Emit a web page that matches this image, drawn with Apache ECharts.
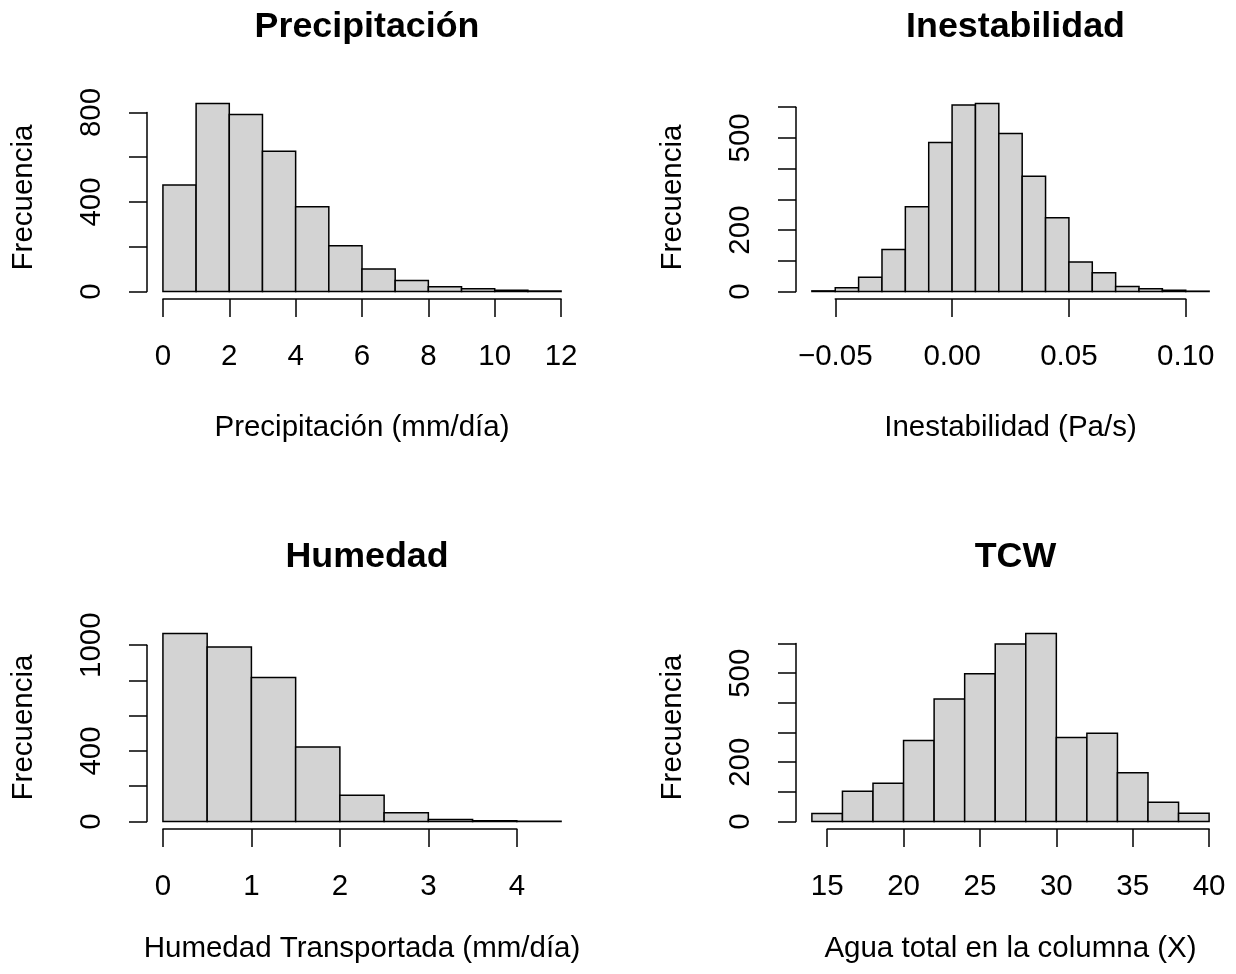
<!DOCTYPE html>
<html>
<head>
<meta charset="utf-8">
<script src="https://cdn.jsdelivr.net/npm/echarts@6/dist/echarts.min.js"></script>
<style>
  html, body { margin: 0; padding: 0; background: #ffffff; }
  #chart { width: 1236px; height: 974px; }
</style>
</head>
<body>
<div id="chart"></div>
<script>
// ---- Data: histogram bins (start, width) and counts per panel ----
const precipStart = 0, precipWidth = 1;
const precipCounts = [476, 840, 791, 627, 379, 204, 101, 49, 21, 12, 6, 2];

const inestStart = -0.06, inestWidth = 0.01;
const inestCounts = [2, 12, 46, 137, 276, 485, 607, 612, 514, 375, 240, 96, 61, 16, 9, 4, 1];

const humedStart = 0, humedWidth = 0.5;
const humedCounts = [1066, 989, 817, 423, 149, 49, 11, 4, 2];

const tcwStart = 14, tcwWidth = 2;
const tcwCounts = [27, 102, 129, 273, 413, 498, 599, 634, 283, 298, 164, 65, 28];

// ---- Tick values ----
const precipXTicks = [0, 2, 4, 6, 8, 10, 12];
const inestXTicks = [-0.05, 0.00, 0.05, 0.10];
const humedXTicks = [0, 1, 2, 3, 4];
const tcwXTicks = [15, 20, 25, 30, 35, 40];

const precipYTicks = [0, 200, 400, 600, 800];
const inestYTicks = [0, 100, 200, 300, 400, 500, 600];
const humedYTicks = [0, 200, 400, 600, 800, 1000];
const tcwYTicks = [0, 100, 200, 300, 400, 500, 600];

// y tick labels that are printed (others are left blank)
const precipYLabels = [0, 400, 800];
const inestYLabels = [0, 200, 500];
const humedYLabels = [0, 400, 1000];
const tcwYLabels = [0, 200, 500];

// ---- Texts ----
const titles = ['Precipitación', 'Inestabilidad', 'Humedad', 'TCW'];
const xNames = ['Precipitación (mm/día)', 'Inestabilidad (Pa/s)', 'Humedad Transportada (mm/día)', 'Agua total en la columna (X)'];
const yName = 'Frecuencia';

// ---- Panel layout: plot regions in px ----
const panels = [
  { box: { left: 147, top: 96, width: 430, height: 203 }, start: precipStart, width: precipWidth, counts: precipCounts,
    xTicks: precipXTicks, yTicks: precipYTicks, yLabels: precipYLabels, decimals: 0 },
  { box: { left: 796, top: 96, width: 429, height: 203 }, start: inestStart, width: inestWidth, counts: inestCounts,
    xTicks: inestXTicks, yTicks: inestYTicks, yLabels: inestYLabels, decimals: 2 },
  { box: { left: 147, top: 626, width: 430, height: 203 }, start: humedStart, width: humedWidth, counts: humedCounts,
    xTicks: humedXTicks, yTicks: humedYTicks, yLabels: humedYLabels, decimals: 0 },
  { box: { left: 796, top: 626, width: 429, height: 203 }, start: tcwStart, width: tcwWidth, counts: tcwCounts,
    xTicks: tcwXTicks, yTicks: tcwYTicks, yLabels: tcwYLabels, decimals: 0 }
];

const FONT = '"Liberation Sans", Arial, Helvetica, sans-serif';
const BASE = 29.5;
const LW = 1.5;

const grid = [], xAxis = [], yAxis = [], series = [], title = [];

panels.forEach((p, i) => {
  const n = p.counts.length;
  const x0 = p.start, x1 = p.start + n * p.width;
  const dx = (x1 - x0) * 0.04;
  const xlo = x0 - dx, xhi = x1 + dx;
  const ymax = Math.max(...p.counts);
  const ylo = -0.04 * ymax, yhi = 1.04 * ymax;
  const b = p.box;
  const bottom = b.top + b.height;

  // 1) plot region with bars + axis titles
  const gPlot = grid.length;
  grid.push({ left: b.left, top: b.top, width: b.width, height: b.height, containLabel: false });
  xAxis.push({
    gridIndex: gPlot, type: 'value', min: xlo, max: xhi,
    axisLine: { show: false }, axisTick: { show: false }, axisLabel: { show: false }, splitLine: { show: false },
    name: xNames[i], nameLocation: 'middle', nameGap: i < 2 ? 114 : 105,
    nameTextStyle: { fontFamily: FONT, fontSize: BASE, color: '#000' }
  });
  yAxis.push({
    gridIndex: gPlot, type: 'value', min: ylo, max: yhi,
    axisLine: { show: false }, axisTick: { show: false }, axisLabel: { show: false }, splitLine: { show: false },
    name: yName, nameLocation: 'middle', nameGap: 108, nameRotate: 90,
    nameTextStyle: { fontFamily: FONT, fontSize: BASE, color: '#000' }
  });
  const bins = p.counts.map((c, k) => [p.start + k * p.width, p.start + (k + 1) * p.width, c]);
  series.push({
    type: 'custom', xAxisIndex: gPlot, yAxisIndex: gPlot, data: bins, silent: true, clip: false,
    renderItem: (params, api) => {
      const a = api.coord([api.value(0), 0]);
      const c = api.coord([api.value(1), api.value(2)]);
      return {
        type: 'rect',
        shape: { x: a[0], y: c[1], width: c[0] - a[0], height: a[1] - c[1] },
        style: { fill: '#D3D3D3', stroke: '#000000', lineWidth: LW }
      };
    }
  });

  // 2) x axis spanning first..last tick, drawn at the bottom edge of the plot region
  const tx0 = p.xTicks[0], tx1 = p.xTicks[p.xTicks.length - 1];
  const gx = grid.length;
  const axLeft = b.left + (tx0 - xlo) / (xhi - xlo) * b.width;
  const axWidth = (tx1 - tx0) / (xhi - xlo) * b.width;
  grid.push({ left: axLeft, top: b.top, width: axWidth, height: b.height, containLabel: false });
  xAxis.push({
    gridIndex: gx, type: 'value', position: 'bottom', min: tx0, max: tx1, interval: p.xTicks[1] - p.xTicks[0],
    axisLine: { show: true, lineStyle: { color: '#000', width: LW } },
    axisTick: { show: true, inside: false, length: 18, lineStyle: { color: '#000', width: LW } },
    splitLine: { show: false },
    axisLabel: {
      show: true, margin: 43, fontFamily: FONT, fontSize: BASE, color: '#000',
      showMinLabel: true, showMaxLabel: true, hideOverlap: false,
      formatter: v => v.toFixed(p.decimals).replace('-', '\u2212')
    }
  });
  yAxis.push({ gridIndex: gx, type: 'value', show: false, min: 0, max: 1 });

  // 3) y axis spanning 0..last tick, drawn at the left edge of the plot region
  const ty1 = p.yTicks[p.yTicks.length - 1];
  const gy = grid.length;
  const zeroPx = bottom - (0 - ylo) / (yhi - ylo) * b.height;
  const topPx = bottom - (ty1 - ylo) / (yhi - ylo) * b.height;
  grid.push({ left: b.left, top: topPx, width: b.width, height: zeroPx - topPx, containLabel: false });
  xAxis.push({ gridIndex: gy, type: 'value', show: false, min: 0, max: 1 });
  yAxis.push({
    gridIndex: gy, type: 'value', position: 'left', min: 0, max: ty1, interval: p.yTicks[1] - p.yTicks[0],
    axisLine: { show: true, lineStyle: { color: '#000', width: LW } },
    axisTick: { show: true, inside: false, length: 18, lineStyle: { color: '#000', width: LW } },
    splitLine: { show: false },
    axisLabel: {
      show: true, rotate: 90, margin: 40, fontFamily: FONT, fontSize: BASE, color: '#000',
      showMinLabel: true, showMaxLabel: true, hideOverlap: false,
      formatter: v => (p.yLabels.indexOf(v) >= 0 ? String(v) : '')
    }
  });

  // panel title
  title.push({
    text: titles[i], left: b.left + b.width / 2, top: b.top - 92, textAlign: 'center',
    textStyle: { fontFamily: FONT, fontSize: 35.8, fontWeight: 'bold', color: '#000' }
  });
});

const chart = echarts.init(document.getElementById('chart'), null, { renderer: 'canvas' });
chart.setOption({
  backgroundColor: '#ffffff',
  animation: false,
  title, grid, xAxis, yAxis, series
});
</script>
</body>
</html>
